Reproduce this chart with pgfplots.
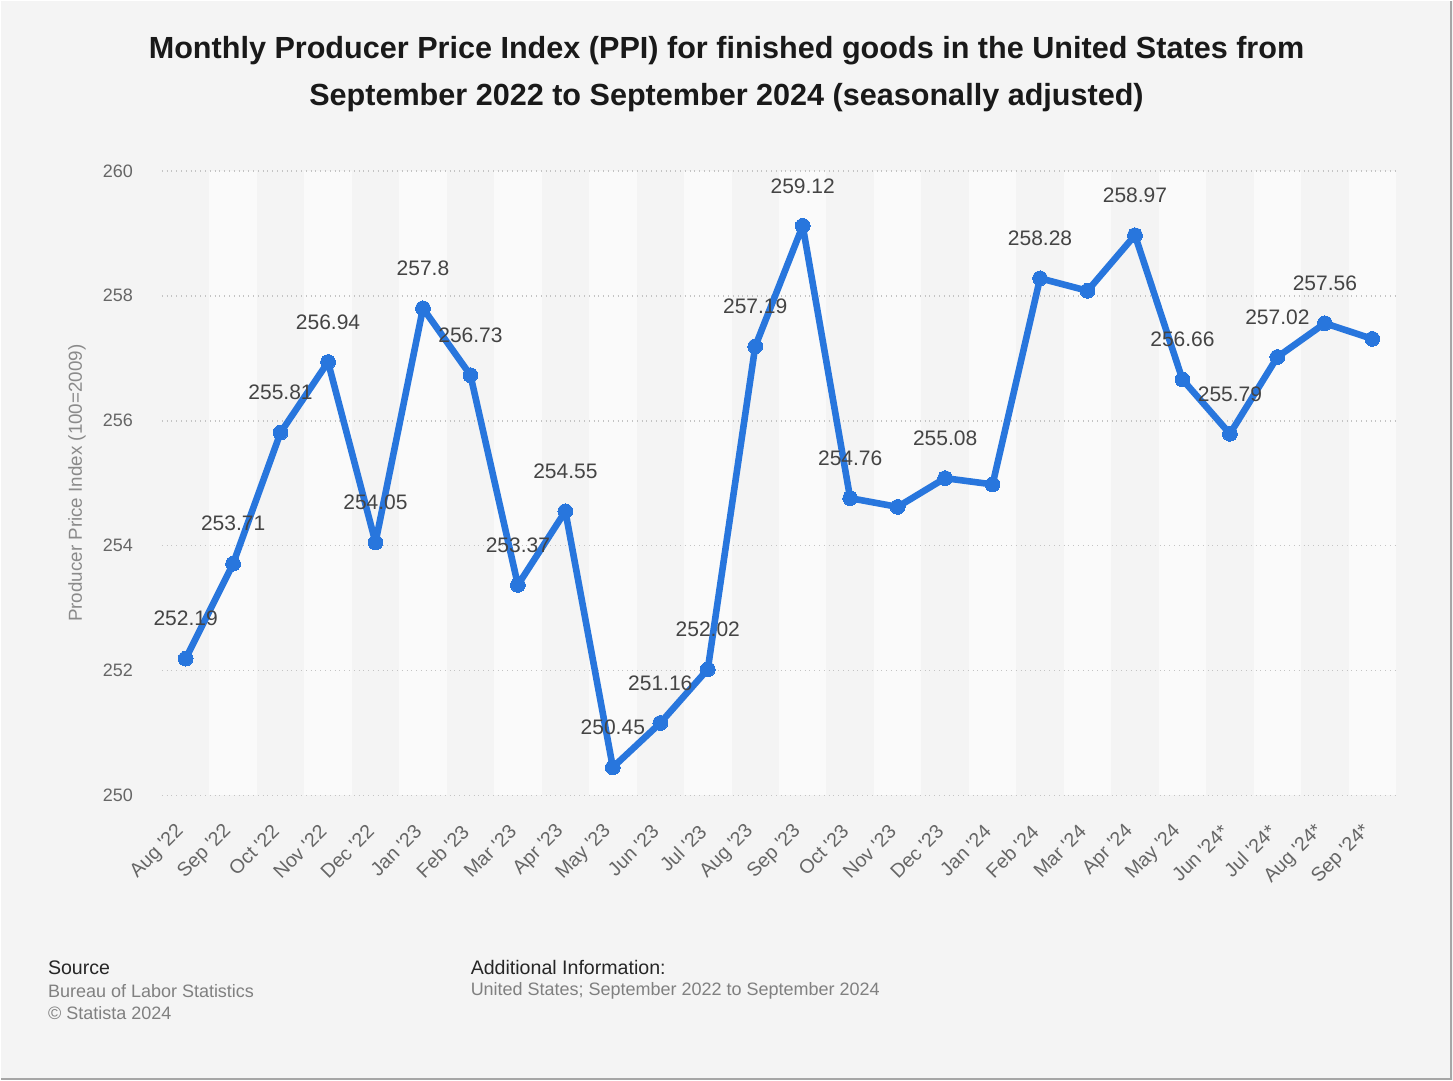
\documentclass[border=0pt]{standalone}
\usepackage{pgfplots}
\pgfplotsset{compat=1.18}
\usepackage{fontspec}
\setmainfont{Liberation Sans}
\definecolor{bgcol}{HTML}{F4F4F4}
\definecolor{stripe}{HTML}{FAFAFA}
\definecolor{linecol}{HTML}{2876DD}
\definecolor{gridcol}{HTML}{C4C4C4}
\definecolor{tickcol}{HTML}{666666}
\definecolor{labcol}{HTML}{444444}
\definecolor{ylabcol}{HTML}{8A8A8A}
\begin{document}
\begin{tikzpicture}
\fill[bgcol] (0,0) rectangle (726.5pt,540pt);
\draw[gray!70,line width=1pt] (0,0.5pt) -- (725.5pt,0.5pt) -- (725.5pt,540pt);
% alternating column stripes (decoration)
\foreach \i in {1,3,...,25} {
  \fill[stripe] ({80.5pt+\i*23.75pt},142.5pt) rectangle ({80.5pt+(\i+1)*23.75pt},455pt);
}
\begin{axis}[
  at={(80.5pt,142.5pt)}, anchor=south west,
  width=617.5pt, height=312.5pt, scale only axis,
  xmin=-0.5, xmax=25.5, ymin=250, ymax=260,
  axis line style={draw=none},
  major tick length=0pt,
  ytick={250,252,...,260},
  xtick={0,...,25},
  xticklabels={Aug \textquotesingle22,Sep \textquotesingle22,Oct \textquotesingle22,Nov \textquotesingle22,Dec \textquotesingle22,Jan \textquotesingle23,Feb \textquotesingle23,Mar \textquotesingle23,Apr \textquotesingle23,May \textquotesingle23,Jun \textquotesingle23,Jul \textquotesingle23,Aug \textquotesingle23,Sep \textquotesingle23,Oct \textquotesingle23,Nov \textquotesingle23,Dec \textquotesingle23,Jan \textquotesingle24,Feb \textquotesingle24,Mar \textquotesingle24,Apr \textquotesingle24,May \textquotesingle24,Jun \textquotesingle24*,Jul \textquotesingle24*,Aug \textquotesingle24*,Sep \textquotesingle24*},
  xticklabel style={rotate=45, anchor=east, font=\fontsize{9.8}{11}\selectfont, text=tickcol},
  xticklabel shift=14pt,
  yticklabel style={font=\fontsize{9}{10}\selectfont, text=tickcol},
  yticklabel shift=11pt,
  /pgf/number format/assume math mode=true,
  ymajorgrids,
  grid style={gridcol, dotted, line width=0.8pt},
  ylabel={Producer Price Index (100=2009)},
  every axis y label/.style={at={(-42.5pt,156.25pt)}, rotate=90, anchor=center, font=\fontsize{9.4}{10}\selectfont, text=ylabcol},
  clip=false,
]
\addplot[linecol, line width=3.3pt, line join=round, mark=*, mark size=3.7pt, mark options={fill=linecol, draw=linecol, line width=0pt}] coordinates {
(0,252.19) (1,253.71) (2,255.81) (3,256.94) (4,254.05) (5,257.8) (6,256.73) (7,253.37) (8,254.55) (9,250.45) (10,251.16) (11,252.02) (12,257.19) (13,259.12) (14,254.76) (15,254.62) (16,255.08) (17,254.98) (18,258.28) (19,258.08) (20,258.97) (21,256.66) (22,255.79) (23,257.02) (24,257.56) (25,257.31)
};
\addplot[draw=none, mark=none, nodes near coords, point meta=explicit symbolic,
  every node near coord/.append style={anchor=center, yshift=20pt, font=\fontsize{10.5}{12}\selectfont, text=labcol}] coordinates {
(0,252.19) [252.19] (1,253.71) [253.71] (2,255.81) [255.81] (3,256.94) [256.94] (4,254.05) [254.05] (5,257.8) [257.8] (6,256.73) [256.73] (7,253.37) [253.37] (8,254.55) [254.55] (9,250.45) [250.45] (10,251.16) [251.16] (11,252.02) [252.02] (12,257.19) [257.19] (13,259.12) [259.12] (14,254.76) [254.76] (16,255.08) [255.08] (18,258.28) [258.28] (20,258.97) [258.97] (21,256.66) [256.66] (22,255.79) [255.79] (23,257.02) [257.02] (24,257.56) [257.56]
};
\end{axis}
\node[font=\bfseries\fontsize{15.3}{17}\selectfont, text=black!90] at (363pt,515pt) {Monthly Producer Price Index (PPI) for finished goods in the United States from};
\node[font=\bfseries\fontsize{15.3}{17}\selectfont, text=black!90] at (363pt,491.5pt) {September 2022 to September 2024 (seasonally adjusted)};
\node[anchor=west, font=\fontsize{9.8}{11}\selectfont, text=black!85] at (20pt,56.5pt) {Source};
\node[anchor=west, font=\fontsize{9}{10}\selectfont, text=black!50] at (20pt,44.5pt) {Bureau of Labor Statistics};
\node[anchor=west, font=\fontsize{9}{10}\selectfont, text=black!50] at (20pt,33.5pt) {\textcopyright\ Statista 2024};
\node[anchor=west, font=\fontsize{9.8}{11}\selectfont, text=black!85] at (231.5pt,56.5pt) {Additional Information:};
\node[anchor=west, font=\fontsize{9}{10}\selectfont, text=black!50] at (231.5pt,44.5pt) {United States; September 2022 to September 2024};
\end{tikzpicture}
\end{document}
